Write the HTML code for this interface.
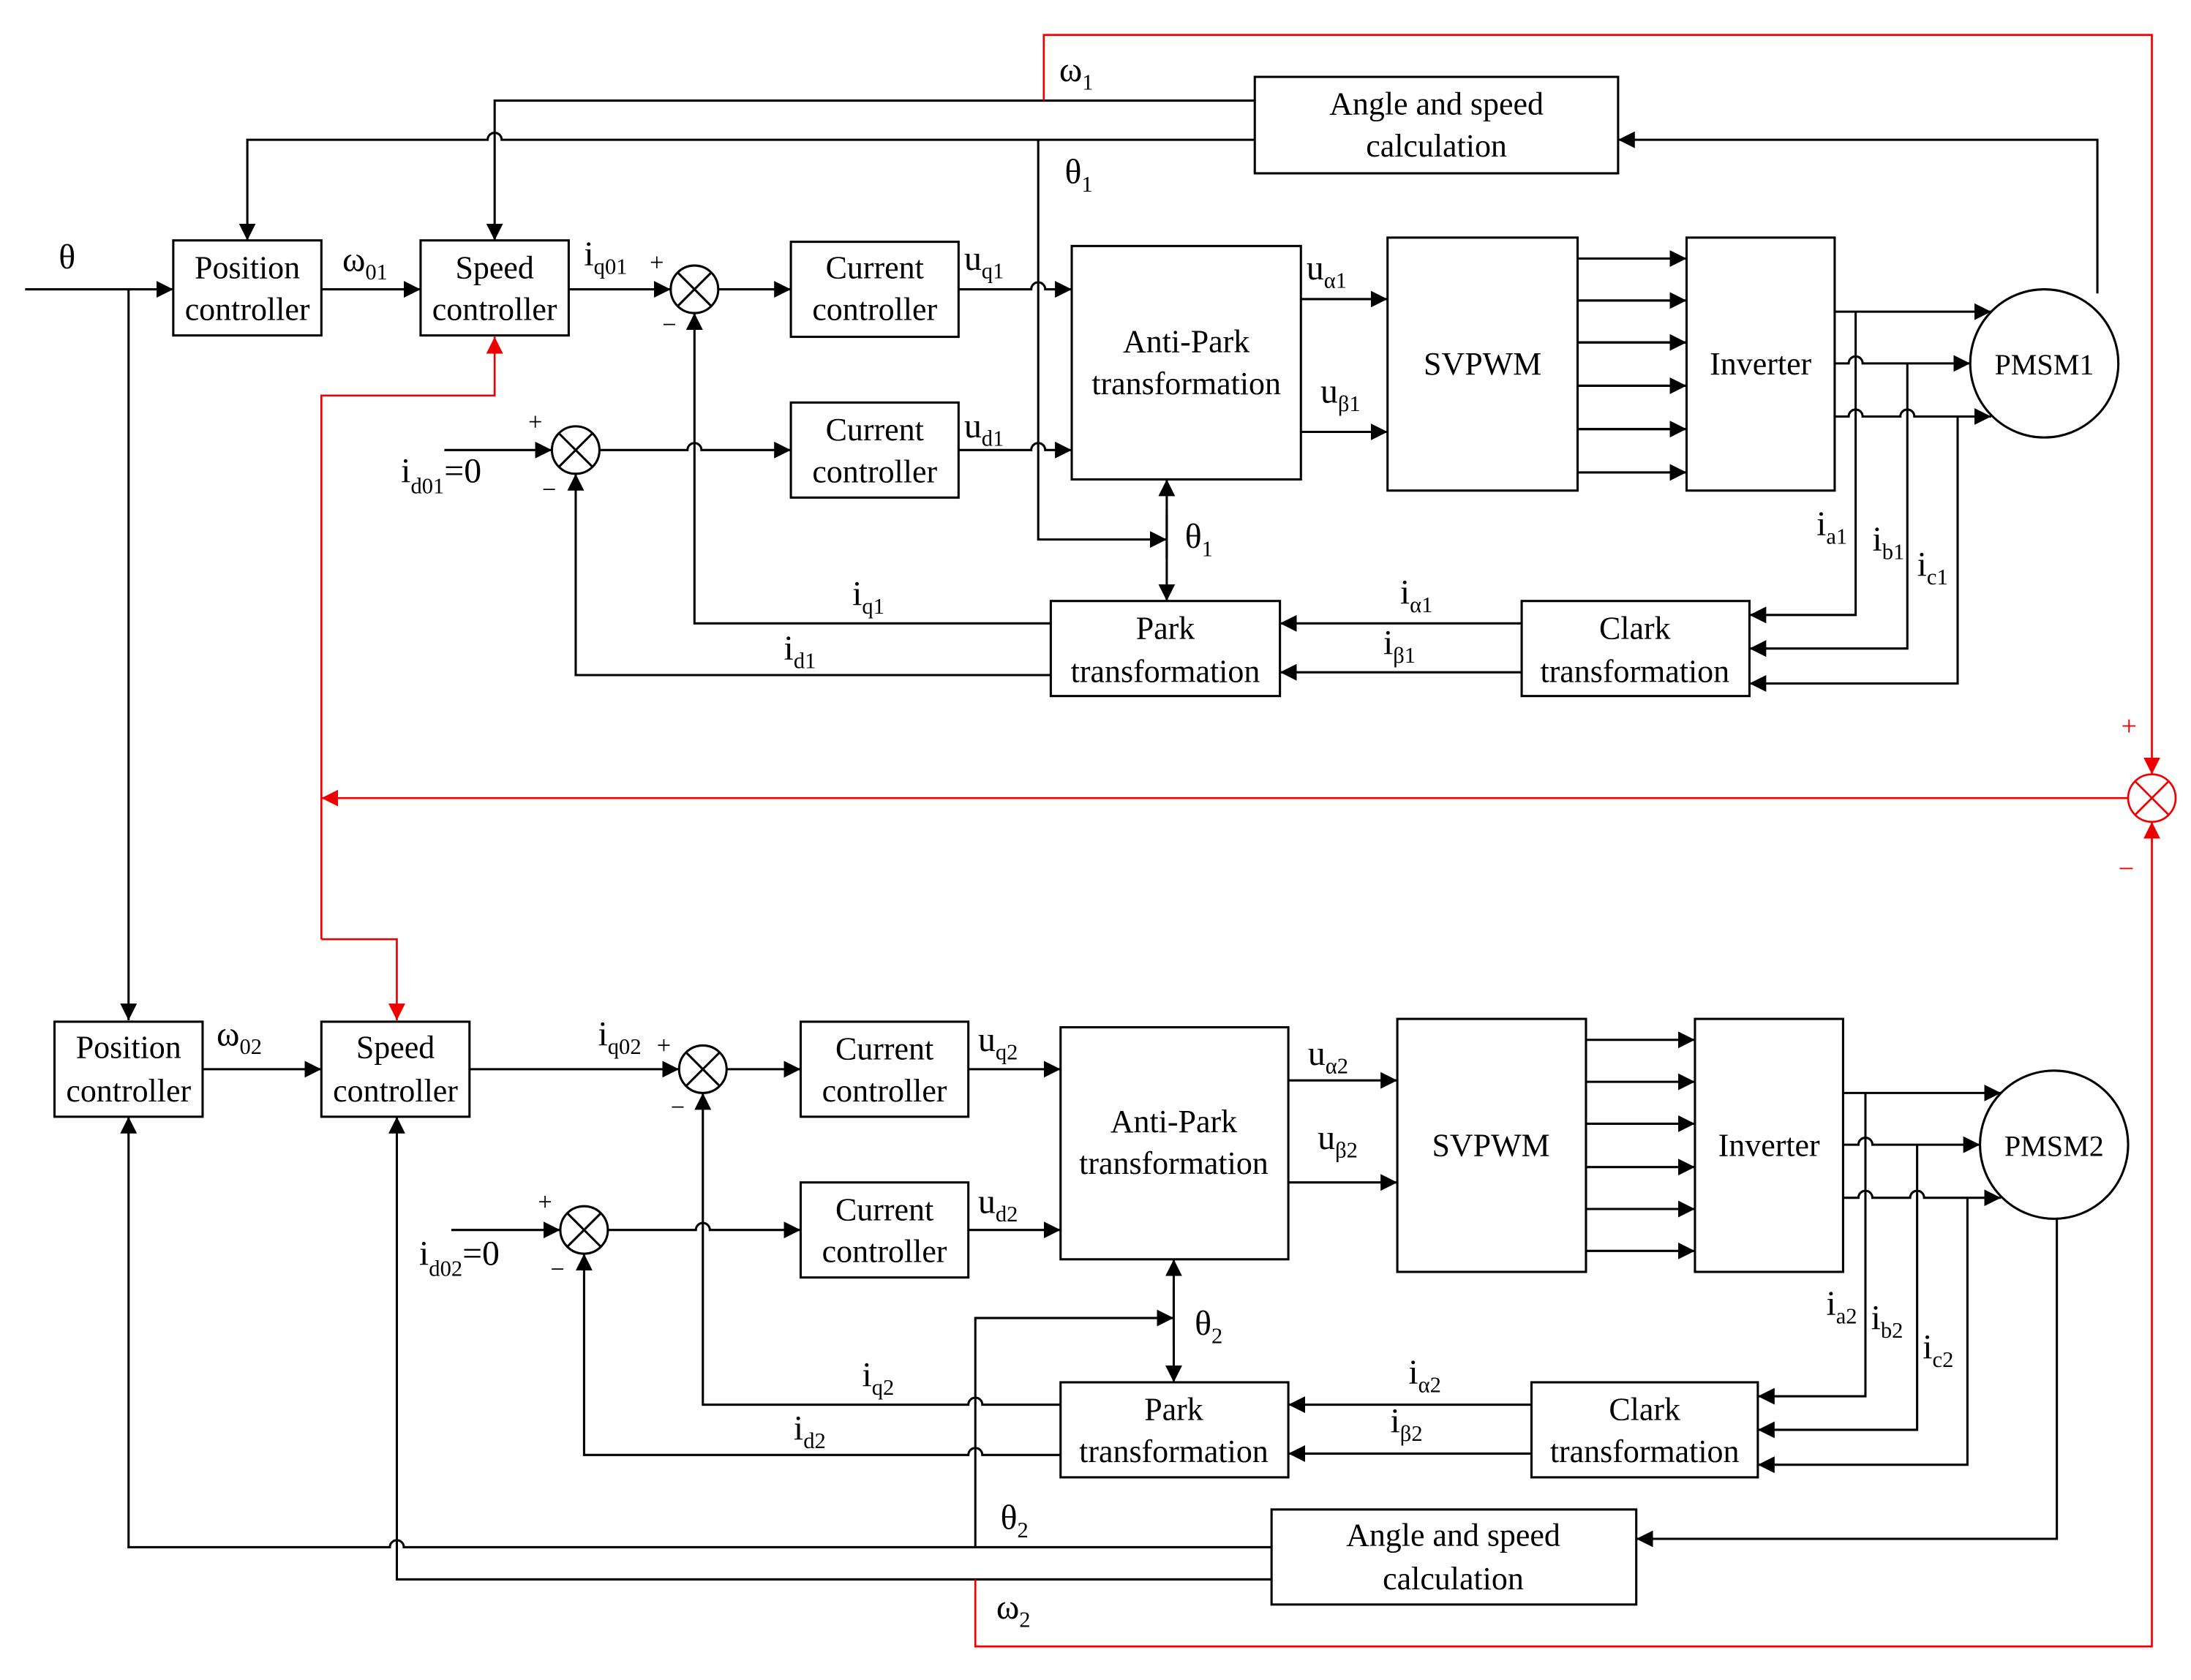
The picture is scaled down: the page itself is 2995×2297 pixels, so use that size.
<!DOCTYPE html>
<html><head><meta charset="utf-8"><style>
html,body{margin:0;padding:0;background:#fff}
svg{display:block}
text{font-family:"Liberation Serif",serif;fill:#000}
.b{font-size:23px;text-anchor:middle}
.l{font-size:25px}
.s{font-size:16px}
</style></head><body>
<svg width="2995" height="2297" viewBox="0 0 1568 1202" preserveAspectRatio="none" xmlns="http://www.w3.org/2000/svg">
<defs>
<marker id="a" viewBox="0 0 10 10" refX="10" refY="5" markerWidth="12" markerHeight="12" markerUnits="userSpaceOnUse" orient="auto"><path d="M0,0L10,5L0,10z" fill="#000"/></marker>
<marker id="r" viewBox="0 0 10 10" refX="10" refY="5" markerWidth="12" markerHeight="12" markerUnits="userSpaceOnUse" orient="auto"><path d="M0,0L10,5L0,10z" fill="#e00"/></marker>
</defs>
<g fill="none" stroke="#000" stroke-width="1.6">
<!-- top boxes -->
<rect x="124" y="172" width="106" height="68"/>
<rect x="301" y="172" width="106" height="68"/>
<rect x="566" y="173" width="120" height="68"/>
<rect x="566" y="288" width="120" height="68"/>
<rect x="767" y="176" width="164" height="167"/>
<rect x="993" y="170" width="136" height="181"/>
<rect x="1207" y="170" width="106" height="181"/>
<rect x="898" y="55" width="260" height="69"/>
<rect x="752" y="430" width="164" height="68"/>
<rect x="1089" y="430" width="163" height="68"/>
<circle cx="1463" cy="260" r="53"/>
<circle cx="497" cy="207" r="17"/><path d="M485,195L509,219M509,195L485,219"/>
<circle cx="412" cy="322" r="17"/><path d="M400,310L424,334M424,310L400,334"/>
<!-- top lines -->
<path d="M18,207H124" marker-end="url(#a)"/>
<path d="M230,207H301" marker-end="url(#a)"/>
<path d="M407,207H480" marker-end="url(#a)"/>
<path d="M514,207H566" marker-end="url(#a)"/>
<path d="M686,207H738a5,5 0 0 1 10,0H767" marker-end="url(#a)"/>
<path d="M686,322H738a5,5 0 0 1 10,0H767" marker-end="url(#a)"/>
<path d="M318,322H395" marker-end="url(#a)"/>
<path d="M429,322H492a5,5 0 0 1 10,0H566" marker-end="url(#a)"/>
<path d="M931,214H993" marker-end="url(#a)"/>
<path d="M931,309H993" marker-end="url(#a)"/>
<path d="M1129,185H1207M1129,215H1207M1129,245H1207M1129,276H1207M1129,307H1207M1129,338H1207" marker-end="url(#a)"/>
<path d="M1129,185H1207" marker-end="url(#a)"/><path d="M1129,215H1207" marker-end="url(#a)"/><path d="M1129,245H1207" marker-end="url(#a)"/><path d="M1129,276H1207" marker-end="url(#a)"/><path d="M1129,307H1207" marker-end="url(#a)"/>
<path d="M1313,223H1425" marker-end="url(#a)"/>
<path d="M1313,260H1323a5,5 0 0 1 10,0H1410" marker-end="url(#a)"/>
<path d="M1313,298H1323a5,5 0 0 1 10,0H1360a5,5 0 0 1 10,0H1425" marker-end="url(#a)"/>
<path d="M1328,223V440H1252" marker-end="url(#a)"/>
<path d="M1365,260V464H1252" marker-end="url(#a)"/>
<path d="M1401,298V489H1252" marker-end="url(#a)"/>
<path d="M1089,446H916" marker-end="url(#a)"/>
<path d="M1089,481H916" marker-end="url(#a)"/>
<path d="M752,446H497V224" marker-end="url(#a)"/>
<path d="M752,483H412V339" marker-end="url(#a)"/>
<path d="M743,100V386H835" marker-end="url(#a)"/>
<path d="M835,365V430" marker-end="url(#a)"/><path d="M835,400V343" marker-end="url(#a)"/>
<path d="M898,72H354V172" marker-end="url(#a)"/>
<path d="M898,100H359a5,5 0 0 0 -10,0H177V172" marker-end="url(#a)"/>
<path d="M1501,210V100H1158" marker-end="url(#a)"/>
<path d="M92,207V730" marker-end="url(#a)"/>
<!-- bottom boxes -->
<rect x="39" y="731" width="106" height="68"/>
<rect x="230" y="731" width="106" height="68"/>
<rect x="573" y="731" width="120" height="68"/>
<rect x="573" y="846" width="120" height="68"/>
<rect x="759" y="735" width="163" height="166"/>
<rect x="1000" y="729" width="135" height="181"/>
<rect x="1213" y="729" width="106" height="181"/>
<rect x="759" y="989" width="163" height="68"/>
<rect x="1096" y="989" width="162" height="68"/>
<rect x="910" y="1080" width="261" height="68"/>
<circle cx="1470" cy="819" r="53"/>
<circle cx="503" cy="765" r="17"/><path d="M491,753L515,777M515,753L491,777"/>
<circle cx="418" cy="880" r="17"/><path d="M406,868L430,892M430,868L406,892"/>
<path d="M145,765H230" marker-end="url(#a)"/>
<path d="M336,765H486" marker-end="url(#a)"/>
<path d="M520,765H573" marker-end="url(#a)"/>
<path d="M693,765H759" marker-end="url(#a)"/>
<path d="M693,880H759" marker-end="url(#a)"/>
<path d="M323,880H401" marker-end="url(#a)"/>
<path d="M435,880H498a5,5 0 0 1 10,0H573" marker-end="url(#a)"/>
<path d="M922,773H1000" marker-end="url(#a)"/>
<path d="M922,846H1000" marker-end="url(#a)"/>
<path d="M1135,744H1213" marker-end="url(#a)"/><path d="M1135,774H1213" marker-end="url(#a)"/><path d="M1135,804H1213" marker-end="url(#a)"/><path d="M1135,835H1213" marker-end="url(#a)"/><path d="M1135,865H1213" marker-end="url(#a)"/><path d="M1135,895H1213" marker-end="url(#a)"/>
<path d="M1319,782H1432" marker-end="url(#a)"/>
<path d="M1319,819H1330a5,5 0 0 1 10,0H1417" marker-end="url(#a)"/>
<path d="M1319,857H1330a5,5 0 0 1 10,0H1367a5,5 0 0 1 10,0H1432" marker-end="url(#a)"/>
<path d="M1335,782V999H1258" marker-end="url(#a)"/>
<path d="M1372,819V1023H1258" marker-end="url(#a)"/>
<path d="M1408,857V1048H1258" marker-end="url(#a)"/>
<path d="M1096,1005H922" marker-end="url(#a)"/>
<path d="M1096,1040H922" marker-end="url(#a)"/>
<path d="M759,1005H703a5,5 0 0 0 -10,0H503V782" marker-end="url(#a)"/>
<path d="M759,1041H703a5,5 0 0 0 -10,0H418V897" marker-end="url(#a)"/>
<path d="M698,1107V943H840" marker-end="url(#a)"/>
<path d="M840,920V989" marker-end="url(#a)"/><path d="M840,960V901" marker-end="url(#a)"/>
<path d="M1472,872V1101H1171" marker-end="url(#a)"/>
<path d="M910,1107H289a5,5 0 0 0 -10,0H92V799" marker-end="url(#a)"/>
<path d="M910,1130H284V799" marker-end="url(#a)"/>
</g>
<!-- red -->
<g fill="none" stroke="#e00" stroke-width="1.4">
<circle cx="1540" cy="571" r="17"/><path d="M1528,559L1552,583M1552,559L1528,583"/>
<path d="M747,72V25H1540V554" marker-end="url(#r)"/>
<path d="M698,1130V1178H1540V588" marker-end="url(#r)"/>
<path d="M1523,571H230" marker-end="url(#r)"/>
<path d="M230,672V283H354V241" marker-end="url(#r)"/>
<path d="M230,672H284V730" marker-end="url(#r)"/>
</g>
<g font-size="20" fill="#e00"><text x="1518" y="526" style="fill:#e00">+</text><text x="1516" y="628" style="fill:#e00">−</text></g>
<!-- box text -->
<text class="b" x="177" y="199">Position</text><text class="b" x="177" y="229">controller</text>
<text class="b" x="354" y="199">Speed</text><text class="b" x="354" y="229">controller</text>
<text class="b" x="626" y="199">Current</text><text class="b" x="626" y="229">controller</text>
<text class="b" x="626" y="315">Current</text><text class="b" x="626" y="345">controller</text>
<text class="b" x="849" y="252">Anti-Park</text><text class="b" x="849" y="282">transformation</text>
<text class="b" x="1061" y="268">SVPWM</text>
<text class="b" x="1260" y="268">Inverter</text>
<text class="b" x="1463" y="268" style="font-size:21px">PMSM1</text>
<text class="b" x="1028" y="82">Angle and speed</text><text class="b" x="1028" y="112">calculation</text>
<text class="b" x="834" y="457">Park</text><text class="b" x="834" y="488">transformation</text>
<text class="b" x="1170" y="457">Clark</text><text class="b" x="1170" y="488">transformation</text>

<text class="b" x="92" y="757">Position</text><text class="b" x="92" y="788">controller</text>
<text class="b" x="283" y="757">Speed</text><text class="b" x="283" y="788">controller</text>
<text class="b" x="633" y="758">Current</text><text class="b" x="633" y="788">controller</text>
<text class="b" x="633" y="873">Current</text><text class="b" x="633" y="903">controller</text>
<text class="b" x="840" y="810">Anti-Park</text><text class="b" x="840" y="840">transformation</text>
<text class="b" x="1067" y="827">SVPWM</text>
<text class="b" x="1266" y="827">Inverter</text>
<text class="b" x="1470" y="827" style="font-size:21px">PMSM2</text>
<text class="b" x="840" y="1016">Park</text><text class="b" x="840" y="1046">transformation</text>
<text class="b" x="1177" y="1016">Clark</text><text class="b" x="1177" y="1046">transformation</text>
<text class="b" x="1040" y="1106">Angle and speed</text><text class="b" x="1040" y="1137">calculation</text>
<!-- labels -->
<text class="l" x="42" y="192">θ</text>
<text class="l" x="245" y="194">ω<tspan class="s" dy="6">01</tspan></text>
<text class="l" x="418" y="190">i<tspan class="s" dy="6">q01</tspan></text>
<text x="465" y="194" font-size="18">+</text><text x="474" y="238" font-size="18">−</text>
<text class="l" x="690" y="193">u<tspan class="s" dy="6">q1</tspan></text>
<text class="l" x="690" y="313">u<tspan class="s" dy="6">d1</tspan></text>
<text class="l" x="287" y="345">i<tspan class="s" dy="8">d01</tspan><tspan dy="-8">=0</tspan></text>
<text x="378" y="308" font-size="18">+</text><text x="388" y="356" font-size="18">−</text>
<text class="l" x="935" y="200">u<tspan class="s" dy="6">α1</tspan></text>
<text class="l" x="945" y="288">u<tspan class="s" dy="6">β1</tspan></text>
<text class="l" x="758" y="58">ω<tspan class="s" dy="6">1</tspan></text>
<text class="l" x="762" y="131">θ<tspan class="s" dy="6">1</tspan></text>
<text class="l" x="848" y="392">θ<tspan class="s" dy="6">1</tspan></text>
<text class="l" x="610" y="433">i<tspan class="s" dy="6">q1</tspan></text>
<text class="l" x="561" y="472">i<tspan class="s" dy="6">d1</tspan></text>
<text class="l" x="1002" y="432">i<tspan class="s" dy="6">α1</tspan></text>
<text class="l" x="990" y="468">i<tspan class="s" dy="6">β1</tspan></text>
<text class="l" x="1300" y="383">i<tspan class="s" dy="6">a1</tspan></text>
<text class="l" x="1340" y="394">i<tspan class="s" dy="6">b1</tspan></text>
<text class="l" x="1372" y="412">i<tspan class="s" dy="6">c1</tspan></text>

<text class="l" x="155" y="748">ω<tspan class="s" dy="6">02</tspan></text>
<text class="l" x="428" y="748">i<tspan class="s" dy="6">q02</tspan></text>
<text x="470" y="754" font-size="18">+</text><text x="480" y="798" font-size="18">−</text>
<text class="l" x="700" y="752">u<tspan class="s" dy="6">q2</tspan></text>
<text class="l" x="700" y="868">u<tspan class="s" dy="6">d2</tspan></text>
<text class="l" x="300" y="905">i<tspan class="s" dy="8">d02</tspan><tspan dy="-8">=0</tspan></text>
<text x="385" y="866" font-size="18">+</text><text x="394" y="914" font-size="18">−</text>
<text class="l" x="936" y="762">u<tspan class="s" dy="6">α2</tspan></text>
<text class="l" x="943" y="822">u<tspan class="s" dy="6">β2</tspan></text>
<text class="l" x="855" y="955">θ<tspan class="s" dy="6">2</tspan></text>
<text class="l" x="617" y="992">i<tspan class="s" dy="6">q2</tspan></text>
<text class="l" x="568" y="1030">i<tspan class="s" dy="6">d2</tspan></text>
<text class="l" x="1008" y="990">i<tspan class="s" dy="6">α2</tspan></text>
<text class="l" x="995" y="1025">i<tspan class="s" dy="6">β2</tspan></text>
<text class="l" x="1307" y="941">i<tspan class="s" dy="6">a2</tspan></text>
<text class="l" x="1339" y="951">i<tspan class="s" dy="6">b2</tspan></text>
<text class="l" x="1376" y="972">i<tspan class="s" dy="6">c2</tspan></text>
<text class="l" x="716" y="1094">θ<tspan class="s" dy="6">2</tspan></text>
<text class="l" x="713" y="1158">ω<tspan class="s" dy="6">2</tspan></text>
</svg>
</body></html>
